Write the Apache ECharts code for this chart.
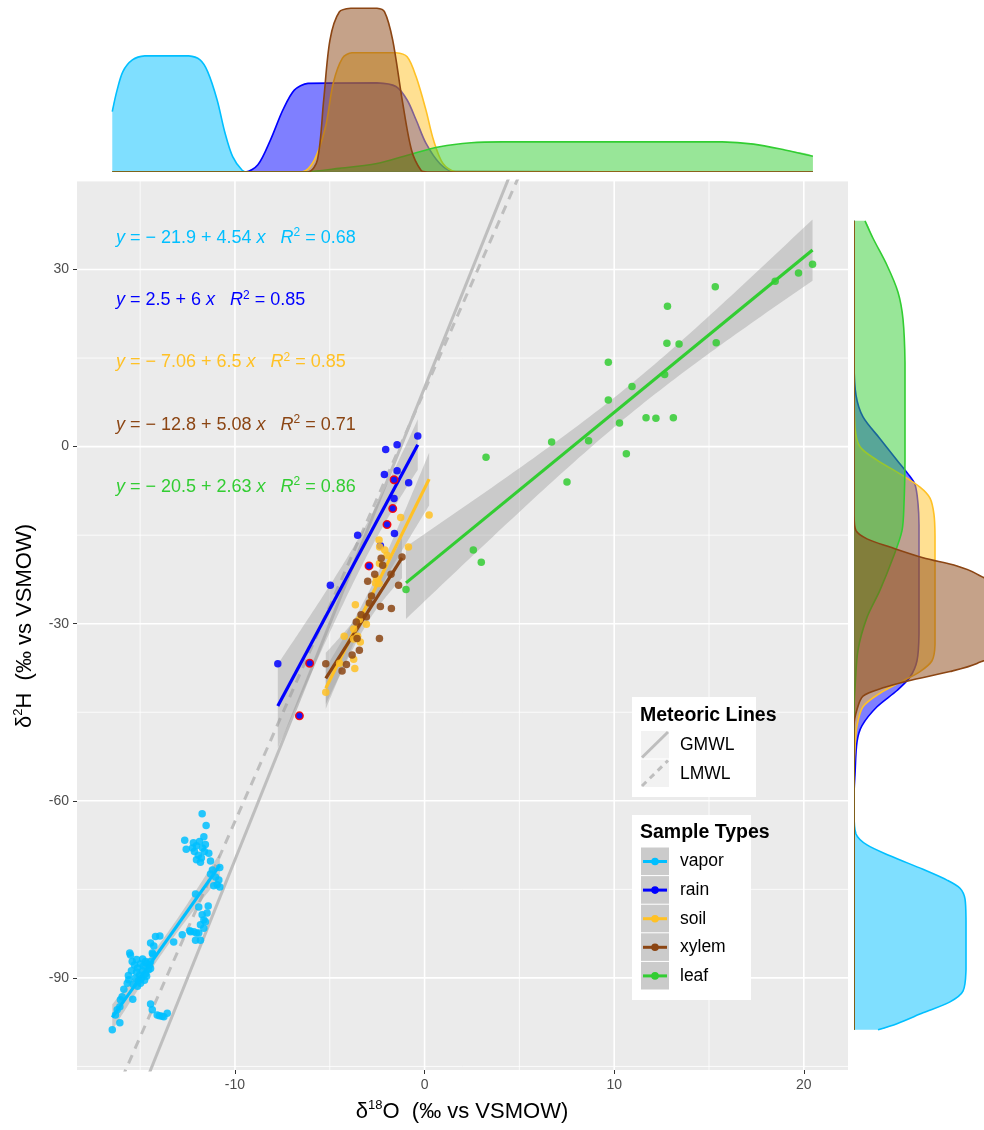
<!DOCTYPE html>
<html>
<head>
<meta charset="utf-8">
<title>Water isotopes by sample type</title>
<script src="https://cdn.jsdelivr.net/npm/echarts@6/dist/echarts.min.js"></script>
<style>
  html, body { margin: 0; padding: 0; background: #ffffff; }
  #chart { width: 984px; height: 1130px; }
</style>
</head>
<body>
<div id="chart"></div>
<script>
// ---- samples: [δ18O, δ2H] (‰ vs VSMOW) ----
const vapor = [
  [-16.47,-98.8],[-16.07,-97.6],[-16.30,-96.3],[-16.21,-95.4],[-16.07,-94.9],[-16.04,-93.7],[-15.95,-93.2],
  [-15.86,-91.9],[-15.68,-90.9],[-15.60,-90.3],[-15.39,-93.6],[-15.51,-86.1],[-15.55,-85.8],[-15.42,-87.2],
  [-14.36,-85.8],[-14.45,-84.1],[-14.28,-84.6],[-14.19,-83.0],[-13.96,-82.9],[-13.23,-83.9],[-12.78,-82.7],
  [-12.35,-82.2],[-12.03,-82.4],[-11.82,-83.6],[-14.45,-94.4],[-14.36,-95.4],[-14.10,-96.3],[-13.84,-96.5],
  [-13.57,-96.0],[-13.75,-96.6],[-13.98,-96.4],[-11.73,-62.2],[-11.52,-64.2],[-11.64,-66.1],[-12.65,-66.7],
  [-12.57,-68.2],[-12.19,-67.1],[-12.03,-67.6],[-11.87,-66.9],[-11.71,-68.0],[-12.14,-68.6],[-11.93,-69.2],
  [-11.77,-69.7],[-11.61,-68.6],[-12.03,-70.0],[-11.82,-70.4],[-12.24,-68.0],[-11.56,-67.4],[-11.38,-68.9],
  [-11.29,-70.2],[-10.80,-71.3],[-11.29,-72.4],[-11.03,-72.9],[-10.85,-73.4],[-10.94,-74.2],[-11.12,-74.4],
  [-10.80,-74.6],[-11.19,-71.7],[-12.08,-75.8],[-11.91,-78.0],[-11.41,-77.8],[-11.73,-79.3],[-11.47,-79.0],
  [-11.64,-80.2],[-11.82,-81.0],[-11.91,-82.4],[-12.17,-82.2],[-12.08,-83.6],[-11.64,-81.6],[-11.56,-80.5],
  [-12.38,-82.0],[-15.30,-87.8],[-15.14,-88.3],[-14.98,-87.6],[-14.82,-88.0],[-14.66,-87.5],[-14.50,-87.8],
  [-15.19,-89.0],[-15.03,-89.5],[-14.87,-88.8],[-14.71,-89.3],[-14.55,-88.6],[-15.25,-90.0],[-15.09,-90.5],
  [-14.93,-90.0],[-14.77,-90.4],[-15.36,-91.1],[-15.14,-91.4],[-14.98,-90.9],[-14.66,-89.7],[-14.45,-88.4],
  [-15.46,-88.8],[-15.62,-89.6],[-14.71,-87.2],[-14.87,-86.8],[-15.19,-86.9],[-14.45,-87.2],[-14.33,-86.0]
];
const rain = [
  [-0.36,1.8],[-2.05,-0.5],[-1.45,0.3],[-2.12,-4.7],[-1.45,-4.1],[-0.84,-6.1],[-1.61,-8.8],
  [-1.59,-14.7],[-3.53,-15.0],[-2.33,-16.8],[-4.97,-23.5],[-7.74,-36.8]
];
// rain samples drawn with a red rim
const rainOutlined = [
  [-1.61,-5.6],[-1.68,-10.5],[-1.98,-13.2],[-2.93,-20.2],[-6.06,-36.7],[-6.60,-45.6]
];
const soil = [
  [0.24,-11.6],[-1.26,-12.0],[-0.85,-17.0],[-2.40,-15.8],[-2.37,-17.0],[-2.10,-17.5],[-1.98,-18.4],
  [-2.38,-19.8],[-2.59,-23.1],[-2.40,-23.2],[-2.54,-22.3],[-3.65,-26.8],[-3.44,-29.3],[-3.07,-30.1],
  [-4.24,-32.1],[-3.74,-30.9],[-3.53,-32.1],[-3.39,-33.1],[-3.74,-32.6],[-4.48,-36.7],[-3.74,-36.0],
  [-3.68,-37.6],[-5.21,-41.6]
];
const xylem = [
  [-1.19,-18.7],[-1.37,-23.5],[-1.77,-21.6],[-2.29,-18.9],[-2.21,-20.1],[-2.63,-21.6],[-3.00,-22.8],
  [-2.80,-25.3],[-2.33,-27.1],[-1.75,-27.4],[-2.91,-26.5],[-3.35,-28.5],[-3.07,-28.8],[-2.38,-32.5],
  [-3.56,-32.5],[-3.44,-34.5],[-3.82,-35.3],[-4.12,-36.9],[-4.35,-38.0],[-5.21,-36.8],[-3.60,-29.7]
];
const leaf = [
  [20.46,30.9],[19.72,29.4],[18.49,28.0],[15.33,27.1],[12.81,23.8],[12.78,17.5],[13.42,17.4],[15.38,17.6],
  [9.69,14.3],[12.66,12.2],[10.94,10.2],[9.69,7.9],[11.68,4.9],[12.20,4.8],[13.12,4.9],[10.28,4.0],
  [10.64,-1.2],[6.70,0.8],[8.65,1.0],[7.51,-6.0],[3.24,-1.8],[2.57,-17.5],[2.99,-19.6],[-0.98,-24.2]
];

// ---- group names, colours, fitted lines ----
const groupNames = ['vapor', 'rain', 'soil', 'xylem', 'leaf'];
const groupColors = ['#00BFFF', '#0000FF', '#FFC125', '#8B4513', '#32CD32'];
const fitIntercept = [-21.9, 2.5, -7.06, -12.8, -20.5];
const fitSlope = [4.54, 6, 6.5, 5.08, 2.63];
const fitR2 = ['0.68', '0.85', '0.85', '0.71', '0.86'];

// meteoric water lines: [slope, intercept]
const gmwl = [8, 10];
const lmwl = [7.3, 9.5];

// tick labels
const xTicks = [-10, 0, 10, 20];
const yTicks = [-90, -60, -30, 0, 30];
const xMinorGrid = [-15, -5, 5, 15];
const yMinorGrid = [-105, -75, -45, -15, 15, 45];

// marginal densities of δ18O: [δ18O, density]
const topVapor = [[-16.47,0.134],[-16.24,0.178],[-15.91,0.223],[-15.41,0.249],[-14.75,0.258],[-12.44,0.258],[-11.84,0.249],[-11.44,0.223],[-10.94,0.160],[-10.52,0.086],[-10.12,0.034],[-9.62,0.004],[-9.29,0],[20.48,0]];
const topRain = [[-16.47,0],[-9.46,0],[-8.79,0.016],[-8.13,0.071],[-7.47,0.138],[-6.87,0.182],[-6.15,0.197],[-2.51,0.198],[-1.51,0.190],[-0.92,0.160],[-0.45,0.116],[0.07,0.064],[0.80,0.019],[1.53,0.001],[20.48,0]];
const topSoil = [[-16.47,0],[-6.48,0],[-5.81,0.027],[-5.22,0.101],[-4.82,0.197],[-4.33,0.253],[-3.83,0.265],[-1.51,0.265],[-0.92,0.256],[-0.45,0.212],[0.07,0.138],[0.47,0.071],[0.97,0.019],[1.63,0.001],[20.48,0]];
const topXylem = [[-16.47,0],[-6.15,0],[-5.65,0.027],[-5.32,0.160],[-4.99,0.293],[-4.49,0.356],[-3.83,0.364],[-2.51,0.364],[-2.11,0.356],[-1.68,0.293],[-1.18,0.160],[-0.69,0.049],[-0.19,0.004],[0.14,0],[20.48,0]];
const topLeaf = [[-16.47,0],[-6.48,0],[-4.49,0.008],[-2.51,0.019],[-0.85,0.038],[0.80,0.056],[2.46,0.065],[4.11,0.067],[15.69,0.067],[17.35,0.062],[19.00,0.049],[20.48,0.035]];

// marginal densities of δ2H: [δ2H, density]
const rightVapor = [[38.25,0],[-61.97,0],[-65.61,0.002],[-67.47,0.013],[-69.30,0.036],[-71.61,0.069],[-73.43,0.093],[-74.81,0.106],[-76.62,0.111],[-80.34,0.112],[-88.57,0.112],[-92.25,0.109],[-94.06,0.096],[-95.92,0.069],[-97.75,0.043],[-98.8,0.024]];
const rightRain = [[38.25,0],[14.21,0],[8.72,0.002],[5.03,0.009],[1.35,0.026],[-2.29,0.043],[-4.61,0.054],[-6.43,0.061],[-9.65,0.064],[-13.29,0.065],[-31.68,0.065],[-36.27,0.063],[-39.03,0.056],[-41.31,0.043],[-44.07,0.023],[-47.27,0.008],[-50.03,0.003],[-55.54,0.001],[-59.18,0],[-98.8,0]];
const rightSoil = [[38.25,0],[11.43,0],[3.20,0.001],[-0.02,0.006],[-2.29,0.023],[-4.61,0.046],[-6.86,0.066],[-8.72,0.076],[-11.50,0.080],[-15.15,0.081],[-33.51,0.081],[-36.27,0.078],[-38.10,0.066],[-39.94,0.046],[-41.77,0.026],[-44.07,0.009],[-47.27,0.003],[-50.95,0.001],[-55.54,0],[-98.8,0]];
const rightXylem = [[38.25,0],[-11.50,0],[-14.24,0.002],[-15.63,0.013],[-17.02,0.036],[-18.83,0.069],[-20.22,0.103],[-21.59,0.123],[-24.30,0.145],[-34.46,0.145],[-36.73,0.123],[-38.10,0.096],[-39.49,0.059],[-40.86,0.029],[-42.25,0.009],[-44.53,0.003],[-47.27,0],[-98.8,0]];
const rightLeaf = [[38.25,0.011],[35.30,0.019],[30.73,0.033],[26.16,0.044],[21.59,0.049],[14.21,0.051],[-2.29,0.051],[-9.65,0.050],[-14.24,0.048],[-18.83,0.039],[-24.30,0.026],[-28.92,0.013],[-34.46,0.004],[-40.89,0.001],[-44.53,0],[-98.8,0]];

// ---- layout ----
const FONT = "'Liberation Sans', Arial, Helvetica, sans-serif";
const X_MIN = -18.33, X_MAX = 22.33, Y_MIN = -105.6, Y_MAX = 45.0;
const MAIN = { left: 77, top: 181, width: 771, height: 889 };

function rgba(hex, a) {
  const n = parseInt(hex.slice(1), 16);
  return `rgba(${(n >> 16) & 255},${(n >> 8) & 255},${n & 255},${a})`;
}

// 97.5% Student t quantile (Cornish-Fisher expansion)
function tCrit(df) {
  const z = 1.959964;
  const g1 = (z ** 3 + z) / 4;
  const g2 = (5 * z ** 5 + 16 * z ** 3 + 3 * z) / 96;
  const g3 = (3 * z ** 7 + 19 * z ** 5 + 17 * z ** 3 - 15 * z) / 384;
  return z + g1 / df + g2 / df ** 2 + g3 / df ** 3;
}

// 95% confidence band of the fitted mean, returned as a closed outline
function confidenceBand(pts, a, b) {
  const n = pts.length;
  const xs = pts.map(p => p[0]);
  const xbar = xs.reduce((s, v) => s + v, 0) / n;
  const sxx = xs.reduce((s, v) => s + (v - xbar) ** 2, 0);
  const sse = pts.reduce((s, p) => s + (p[1] - a - b * p[0]) ** 2, 0);
  const se = Math.sqrt(sse / (n - 2));
  const t = tCrit(n - 2);
  const lo = Math.min(...xs), hi = Math.max(...xs);
  const upper = [], lower = [];
  const steps = 80;
  for (let i = 0; i <= steps; i++) {
    const x = lo + (hi - lo) * i / steps;
    const fit = a + b * x;
    const h = t * se * Math.sqrt(1 / n + (x - xbar) ** 2 / sxx);
    upper.push([x, fit + h]);
    lower.push([x, fit - h]);
  }
  return upper.concat(lower.reverse());
}

const groupPoints = [vapor, rain.concat(rainOutlined), soil, xylem, leaf];

const series = [];

// panel grid lines
series.push({
  type: 'custom', xAxisIndex: 0, yAxisIndex: 0, silent: true, z: 1, data: [0],
  renderItem(params, api) {
    const kids = [];
    const vline = (v, w) => {
      const p0 = api.coord([v, Y_MIN]), p1 = api.coord([v, Y_MAX]);
      kids.push({ type: 'line', shape: { x1: p0[0], y1: p0[1], x2: p1[0], y2: p1[1] }, style: { stroke: '#FFFFFF', lineWidth: w } });
    };
    const hline = (v, w) => {
      const p0 = api.coord([X_MIN, v]), p1 = api.coord([X_MAX, v]);
      kids.push({ type: 'line', shape: { x1: p0[0], y1: p0[1], x2: p1[0], y2: p1[1] }, style: { stroke: '#FFFFFF', lineWidth: w } });
    };
    xMinorGrid.forEach(v => vline(v, 0.8));
    yMinorGrid.forEach(v => hline(v, 0.8));
    xTicks.forEach(v => vline(v, 1.6));
    yTicks.forEach(v => hline(v, 1.6));
    return { type: 'group', children: kids };
  }
});

// meteoric water lines
[[gmwl, 'solid'], [lmwl, [9, 7]]].forEach(([ln, dash]) => {
  series.push({
    type: 'line', xAxisIndex: 0, yAxisIndex: 0, silent: true, z: 2, symbol: 'none',
    data: [[X_MIN, ln[1] + ln[0] * X_MIN], [X_MAX, ln[1] + ln[0] * X_MAX]],
    lineStyle: { color: '#BEBEBE', width: 3, type: dash }
  });
});

// confidence bands
groupPoints.forEach((pts, i) => {
  const band = confidenceBand(pts, fitIntercept[i], fitSlope[i]);
  series.push({
    type: 'custom', xAxisIndex: 0, yAxisIndex: 0, silent: true, z: 3, data: [0],
    renderItem(params, api) {
      return { type: 'polygon', shape: { points: band.map(p => api.coord(p)) },
               style: { fill: 'rgba(153,153,153,0.4)', stroke: 'none' } };
    }
  });
});

// fitted lines over each group's δ18O range
groupPoints.forEach((pts, i) => {
  const xs = pts.map(p => p[0]);
  const lo = Math.min(...xs), hi = Math.max(...xs);
  series.push({
    type: 'line', name: groupNames[i], xAxisIndex: 0, yAxisIndex: 0, silent: true, z: 4, symbol: 'none',
    data: [[lo, fitIntercept[i] + fitSlope[i] * lo], [hi, fitIntercept[i] + fitSlope[i] * hi]],
    lineStyle: { color: groupColors[i], width: 3.2 }
  });
});

// samples
[vapor, rain, soil, xylem, leaf].forEach((pts, i) => {
  series.push({
    type: 'scatter', xAxisIndex: 0, yAxisIndex: 0, silent: true, z: 5,
    symbolSize: 7.5, data: pts,
    itemStyle: { color: groupColors[i], opacity: 0.85 }
  });
});
series.push({
  type: 'scatter', xAxisIndex: 0, yAxisIndex: 0, silent: true, z: 5,
  symbolSize: 7.5, data: rainOutlined,
  itemStyle: { color: '#0000FF', borderColor: '#FF0000', borderWidth: 1.5, opacity: 0.9 }
});

// marginal density layers
function densityLayer(pts, color, side) {
  const top = side === 'top';
  return {
    type: 'custom', xAxisIndex: top ? 1 : 2, yAxisIndex: top ? 1 : 2,
    silent: true, clip: true, z: 2, data: [0],
    renderItem(params, api) {
      const toPx = p => (top ? api.coord([p[0], p[1]]) : api.coord([p[1], p[0]]));
      const curve = pts.map(toPx);
      const start = toPx([pts[0][0], 0]);
      const end = toPx([pts[pts.length - 1][0], 0]);
      const box = [curve[0].slice(), curve[0].slice()];
      return {
        type: 'group',
        children: [
          { type: 'polyline', shape: { points: [start].concat(curve, [end]), smooth: 0.3, smoothConstraint: box },
            style: { fill: rgba(color, 0.5), stroke: 'none' } },
          { type: 'polyline', shape: { points: curve, smooth: 0.3, smoothConstraint: box },
            style: { fill: 'none', stroke: color, lineWidth: 1.6 } }
        ]
      };
    }
  };
}
const topCurves = [topVapor, topRain, topSoil, topLeaf, topXylem];
const rightCurves = [rightVapor, rightRain, rightSoil, rightLeaf, rightXylem];
const curveColors = [groupColors[0], groupColors[1], groupColors[2], groupColors[4], groupColors[3]];
topCurves.forEach((c, i) => series.push(densityLayer(c, curveColors[i], 'top')));
rightCurves.forEach((c, i) => series.push(densityLayer(c, curveColors[i], 'right')));

// ---- annotations: fitted equations, axis titles, legends ----
const graphics = [];
const fmt = v => (v < 0 ? '\u2212 ' + Math.abs(v) : String(v));
groupNames.forEach((g, i) => {
  const col = groupColors[i];
  graphics.push({
    type: 'text', x: 116, y: 238 + 62.2 * i,
    style: {
      text: `{i|y}{n| = ${fmt(fitIntercept[i])} + ${fitSlope[i]} }{i|x}{n|   }{i|R}{s|2}{n| = ${fitR2[i]}}`,
      verticalAlign: 'middle', align: 'left',
      rich: {
        n: { fontSize: 18, fontFamily: FONT, fill: col, lineHeight: 22 },
        i: { fontSize: 18, fontFamily: FONT, fontStyle: 'italic', fill: col, lineHeight: 22 },
        s: { fontSize: 12, fontFamily: FONT, fill: col, lineHeight: 11, verticalAlign: 'top' }
      }
    }
  });
});

const titleRich = {
  n: { fontSize: 22, fontFamily: FONT, fill: '#000000', lineHeight: 26 },
  s: { fontSize: 13, fontFamily: FONT, fill: '#000000', lineHeight: 12, verticalAlign: 'top' }
};
graphics.push({
  type: 'text', x: 462, y: 1112,
  style: { text: '{n|\u03B4}{s|18}{n|O  (\u2030 vs VSMOW)}', align: 'center', verticalAlign: 'middle', rich: titleRich }
});
graphics.push({
  type: 'text', x: 25, y: 626, rotation: Math.PI / 2,
  style: { text: '{n|\u03B4}{s|2}{n|H  (\u2030 vs VSMOW)}', align: 'center', verticalAlign: 'middle', rich: titleRich }
});

// legend: meteoric lines
const LEG_FONT = { fontFamily: FONT, fontSize: 17.5, fill: '#000000' };
graphics.push({ type: 'rect', shape: { x: 632, y: 697, width: 124, height: 100 }, style: { fill: '#FFFFFF' } });
graphics.push({ type: 'text', x: 640, y: 716,
  style: { text: 'Meteoric Lines', fontFamily: FONT, fontSize: 19.5, fontWeight: 'bold', fill: '#000000', verticalAlign: 'middle' } });
[['GMWL', 'solid'], ['LMWL', 'dashed']].forEach(([label, kind], k) => {
  const y0 = 731 + 28.5 * k;
  graphics.push({ type: 'rect', shape: { x: 641, y: y0, width: 28, height: 27.5 }, style: { fill: '#F2F2F2' } });
  graphics.push({ type: 'line', shape: { x1: 642, y1: y0 + 26.5, x2: 668, y2: y0 + 1 },
    style: { stroke: '#BEBEBE', lineWidth: 3, lineDash: kind === 'dashed' ? [6, 5] : null } });
  graphics.push({ type: 'text', x: 680, y: y0 + 14.5,
    style: Object.assign({ text: label, verticalAlign: 'middle' }, LEG_FONT) });
});

// legend: sample types
graphics.push({ type: 'rect', shape: { x: 632, y: 815, width: 119, height: 185 }, style: { fill: '#FFFFFF' } });
graphics.push({ type: 'text', x: 640, y: 833,
  style: { text: 'Sample Types', fontFamily: FONT, fontSize: 19.5, fontWeight: 'bold', fill: '#000000', verticalAlign: 'middle' } });
groupNames.forEach((g, k) => {
  const y0 = 847.5 + 28.6 * k;
  const cy = y0 + 14;
  graphics.push({ type: 'rect', shape: { x: 641, y: y0, width: 28, height: 27.6 }, style: { fill: '#CBCBCB' } });
  graphics.push({ type: 'line', shape: { x1: 643, y1: cy, x2: 667, y2: cy }, style: { stroke: groupColors[k], lineWidth: 3 } });
  graphics.push({ type: 'circle', shape: { cx: 655, cy: cy, r: 3.8 }, style: { fill: groupColors[k] } });
  graphics.push({ type: 'text', x: 680, y: cy,
    style: Object.assign({ text: g, verticalAlign: 'middle' }, LEG_FONT) });
});
graphics.forEach(el => { el.z = 100; el.silent = true; });

const option = {
  backgroundColor: '#FFFFFF',
  animation: false,
  grid: [
    Object.assign({ show: true, backgroundColor: '#EBEBEB', borderWidth: 0, containLabel: false, outerBoundsMode: 'none' }, MAIN),
    { left: MAIN.left, width: MAIN.width, top: 0, height: 172, containLabel: false, outerBoundsMode: 'none' },
    { left: 854, width: 130, top: MAIN.top, height: MAIN.height, containLabel: false, outerBoundsMode: 'none' }
  ],
  xAxis: [
    {
      gridIndex: 0, type: 'value', min: X_MIN, max: X_MAX, position: 'bottom',
      axisLine: { show: false, onZero: false },
      axisTick: { show: true, customValues: xTicks, length: 4, lineStyle: { color: '#333333', width: 1 } },
      axisLabel: { show: true, customValues: xTicks, color: '#4D4D4D', fontSize: 14, fontFamily: FONT, margin: 8 },
      splitLine: { show: false }
    },
    { gridIndex: 1, type: 'value', min: X_MIN, max: X_MAX, show: false, splitLine: { show: false } },
    { gridIndex: 2, type: 'value', min: 0, max: 0.130, show: false, splitLine: { show: false } }
  ],
  yAxis: [
    {
      gridIndex: 0, type: 'value', min: Y_MIN, max: Y_MAX, position: 'left',
      axisLine: { show: false, onZero: false },
      axisTick: { show: true, customValues: yTicks, length: 4, lineStyle: { color: '#333333', width: 1 } },
      axisLabel: { show: true, customValues: yTicks, color: '#4D4D4D', fontSize: 14, fontFamily: FONT, margin: 8 },
      splitLine: { show: false }
    },
    { gridIndex: 1, type: 'value', min: 0, max: 0.3822, show: false, splitLine: { show: false } },
    { gridIndex: 2, type: 'value', min: Y_MIN, max: Y_MAX, show: false, splitLine: { show: false } }
  ],
  series: series,
  graphic: { elements: graphics }
};

const chart = echarts.init(document.getElementById('chart'), null, { renderer: 'canvas' });
chart.setOption(option);
</script>
</body>
</html>
